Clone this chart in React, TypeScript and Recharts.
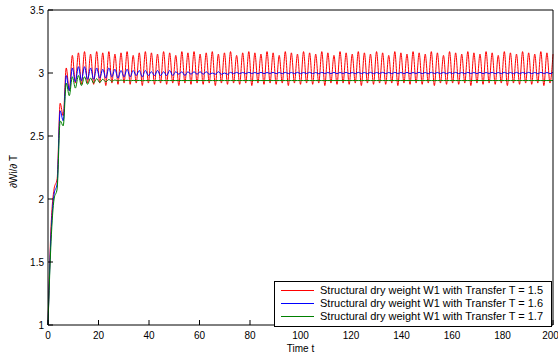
import React from "react";
import { LineChart, Line, XAxis, YAxis, Label } from "recharts";

// samples are taken on an even grid over 0..200 (166 intervals, half an oscillation each)
const T_END = 200;
const STEPS = 166;

const redW1 = [
  1.0, 1.78, 2.08, 2.16, 2.76, 2.66, 3.04, 2.86, 3.14, 2.92,
  3.16, 2.91, 3.17, 2.92, 3.15, 2.91, 3.17, 2.92, 3.16, 2.9,
  3.17, 2.92, 3.15, 2.91, 3.16, 2.92, 3.17, 2.91, 3.14, 2.92,
  3.16, 2.9, 3.17, 2.92, 3.16, 2.91, 3.15, 2.92, 3.17, 2.91,
  3.16, 2.92, 3.14, 2.9, 3.17, 2.92, 3.16, 2.91, 3.17, 2.92,
  3.15, 2.91, 3.16, 2.92, 3.17, 2.9, 3.15, 2.92, 3.16, 2.91,
  3.17, 2.92, 3.14, 2.91, 3.16, 2.92, 3.17, 2.9, 3.16, 2.92,
  3.15, 2.91, 3.17, 2.92, 3.16, 2.91, 3.14, 2.92, 3.17, 2.9,
  3.16, 2.92, 3.15, 2.91, 3.17, 2.92, 3.16, 2.91, 3.15, 2.92,
  3.17, 2.9, 3.16, 2.92, 3.14, 2.91, 3.17, 2.92, 3.16, 2.91,
  3.15, 2.92, 3.17, 2.9, 3.16, 2.92, 3.15, 2.91, 3.17, 2.92,
  3.16, 2.91, 3.14, 2.92, 3.17, 2.9, 3.16, 2.92, 3.15, 2.91,
  3.17, 2.92, 3.16, 2.91, 3.15, 2.92, 3.17, 2.9, 3.16, 2.92,
  3.14, 2.91, 3.17, 2.92, 3.16, 2.91, 3.15, 2.92, 3.17, 2.9,
  3.16, 2.92, 3.15, 2.91, 3.17, 2.92, 3.16, 2.91, 3.14, 2.92,
  3.17, 2.9, 3.16, 2.92, 3.15, 2.91, 3.17, 2.92, 3.16, 2.91,
  3.15, 2.92, 3.17, 2.9, 3.16, 2.92, 3.15,
];

const blueW1 = [
  1.0, 1.72, 2.04, 2.12, 2.7, 2.62, 2.98, 2.86, 3.04, 2.93,
  3.05, 2.94, 3.05, 2.95, 3.04, 2.95, 3.04, 2.96, 3.03, 2.96,
  3.04, 2.97, 3.03, 2.96, 3.02, 2.97, 3.03, 2.97, 3.02, 2.98,
  3.02, 2.97, 3.02, 2.98, 3.01, 2.98, 3.02, 2.98, 3.01, 2.98,
  3.02, 2.98, 3.01, 2.99, 3.01, 2.98, 3.01, 2.99, 3.01, 2.99,
  3.01, 2.99, 3.01, 2.99, 3.0, 2.99, 3.01, 2.99, 3.0, 2.99,
  3.005, 2.995, 3.005, 2.995, 3.004, 2.995, 3.005, 2.996, 3.004, 2.995,
  3.005, 2.995, 3.004, 2.996, 3.005, 2.995, 3.004, 2.995, 3.005, 2.996,
  3.004, 2.995, 3.005, 2.995, 3.004, 2.996, 3.005, 2.995, 3.004, 2.995,
  3.005, 2.996, 3.004, 2.995, 3.005, 2.995, 3.004, 2.996, 3.005, 2.995,
  3.004, 2.995, 3.005, 2.996, 3.004, 2.995, 3.005, 2.995, 3.004, 2.996,
  3.005, 2.995, 3.004, 2.995, 3.005, 2.996, 3.004, 2.995, 3.005, 2.995,
  3.004, 2.996, 3.005, 2.995, 3.004, 2.995, 3.005, 2.996, 3.004, 2.995,
  3.005, 2.995, 3.004, 2.996, 3.005, 2.995, 3.004, 2.995, 3.005, 2.996,
  3.004, 2.995, 3.005, 2.995, 3.004, 2.996, 3.005, 2.995, 3.004, 2.995,
  3.005, 2.996, 3.004, 2.995, 3.005, 2.995, 3.004, 2.996, 3.005, 2.995,
  3.004, 2.995, 3.005, 2.996, 3.004, 2.995, 3.005,
];

const greenW1 = [
  1.0, 1.66, 2.0, 2.08, 2.62, 2.58, 2.92, 2.82, 2.97, 2.88,
  2.98, 2.9, 2.97, 2.91, 2.96, 2.92, 2.955, 2.925, 2.95, 2.93,
  2.948, 2.934, 2.945, 2.936, 2.944, 2.938, 2.942, 2.938, 2.941, 2.939,
  2.941, 2.939, 2.94, 2.94, 2.94, 2.94, 2.94, 2.94, 2.94, 2.94,
  2.94, 2.94, 2.94, 2.94, 2.94, 2.94, 2.94, 2.94, 2.94, 2.94,
  2.94, 2.94, 2.94, 2.94, 2.94, 2.94, 2.94, 2.94, 2.94, 2.94,
  2.94, 2.94, 2.94, 2.94, 2.94, 2.94, 2.94, 2.94, 2.94, 2.94,
  2.94, 2.94, 2.94, 2.94, 2.94, 2.94, 2.94, 2.94, 2.94, 2.94,
  2.94, 2.94, 2.94, 2.94, 2.94, 2.94, 2.94, 2.94, 2.94, 2.94,
  2.94, 2.94, 2.94, 2.94, 2.94, 2.94, 2.94, 2.94, 2.94, 2.94,
  2.94, 2.94, 2.94, 2.94, 2.94, 2.94, 2.94, 2.94, 2.94, 2.94,
  2.94, 2.94, 2.94, 2.94, 2.94, 2.94, 2.94, 2.94, 2.94, 2.94,
  2.94, 2.94, 2.94, 2.94, 2.94, 2.94, 2.94, 2.94, 2.94, 2.94,
  2.94, 2.94, 2.94, 2.94, 2.94, 2.94, 2.94, 2.94, 2.94, 2.94,
  2.94, 2.94, 2.94, 2.94, 2.94, 2.94, 2.94, 2.94, 2.94, 2.94,
  2.94, 2.94, 2.94, 2.94, 2.94, 2.94, 2.94, 2.94, 2.94, 2.94,
  2.94, 2.94, 2.94, 2.94, 2.94, 2.94, 2.94,
];

const xTicks = [0, 20, 40, 60, 80, 100, 120, 140, 160, 180, 200];
const yTicks = [1, 1.5, 2, 2.5, 3, 3.5];

const series = [
  { key: "w15", name: "Structural dry weight W1 with Transfer T = 1.5", color: "#ff0000", values: redW1 },
  { key: "w16", name: "Structural dry weight W1 with Transfer T = 1.6", color: "#0000ff", values: blueW1 },
  { key: "w17", name: "Structural dry weight W1 with Transfer T = 1.7", color: "#008000", values: greenW1 },
];

const data = redW1.map((_, i) => {
  const row: Record<string, number> = { t: (i * T_END) / STEPS };
  series.forEach((s) => (row[s.key] = s.values[i]));
  return row;
});

const FONT = '"Liberation Sans", Arial, Helvetica, sans-serif';
const axisStroke = { stroke: "#000", strokeWidth: 1 };
const tickText = { fill: "#000", fontSize: 10, fontFamily: FONT };

function YTitle(props: any) {
  const vb = props.viewBox || { x: 0, y: 0, width: 0, height: 0 };
  const cx = 14;
  const cy = vb.y + vb.height / 2 + 4;
  return (
    <text
      x={cx}
      y={cy}
      transform={`rotate(-90 ${cx} ${cy})`}
      textAnchor="middle"
      dominantBaseline="middle"
      fontSize={10}
      fontFamily={FONT}
      fill="#000"
    >
      ∂Wi/∂ T
    </text>
  );
}

function LegendBox() {
  return (
    <div
      style={{
        position: "absolute",
        left: 274,
        top: 281,
        width: 276,
        padding: "2px 0 3px 0",
        border: "1px solid #000",
        background: "#fff",
        fontFamily: FONT,
        fontSize: 11,
        lineHeight: "13px",
        color: "#000",
      }}
    >
      {series.map((s) => (
        <div key={s.key} style={{ display: "flex", alignItems: "center", whiteSpace: "nowrap" }}>
          <span style={{ display: "inline-block", width: 33, height: 1, background: s.color, margin: "0 6px 0 6px" }} />
          <span>{s.name}</span>
        </div>
      ))}
    </div>
  );
}

export default function App() {
  return (
    <div style={{ position: "absolute", left: 0, top: 0, width: 558, height: 354, background: "#fff" }}>
      <LineChart width={558} height={354} data={data} margin={{ top: 0, right: 0, bottom: 0, left: 0 }}>
        <XAxis
          xAxisId="b"
          dataKey="t"
          type="number"
          domain={[0, 200]}
          ticks={xTicks}
          height={29}
          tickSize={-5}
          tickMargin={12}
          axisLine={axisStroke}
          tickLine={axisStroke}
          tick={tickText}
        >
          <Label value="Time t" position="insideBottom" offset={2} style={{ fontSize: 10, fontFamily: FONT, fill: "#000" }} />
        </XAxis>
        <XAxis
          xAxisId="top"
          orientation="top"
          dataKey="t"
          type="number"
          domain={[0, 200]}
          ticks={xTicks}
          height={10}
          tickSize={-5}
          axisLine={axisStroke}
          tickLine={axisStroke}
          tick={false}
        />
        <YAxis
          yAxisId="l"
          type="number"
          domain={[1, 3.5]}
          ticks={yTicks}
          width={48}
          tickSize={-5}
          tickMargin={9}
          axisLine={axisStroke}
          tickLine={axisStroke}
          tick={tickText}
        >
          <Label content={<YTitle />} />
        </YAxis>
        <YAxis
          yAxisId="r"
          orientation="right"
          type="number"
          domain={[1, 3.5]}
          ticks={yTicks}
          width={5}
          tickSize={-5}
          axisLine={axisStroke}
          tickLine={axisStroke}
          tick={false}
        />
        {series.map((s) => (
          <Line
            key={s.key}
            xAxisId="b"
            yAxisId="l"
            type="monotone"
            dataKey={s.key}
            name={s.name}
            stroke={s.color}
            strokeWidth={1}
            dot={false}
            isAnimationActive={false}
          />
        ))}
      </LineChart>
      <LegendBox />
    </div>
  );
}
